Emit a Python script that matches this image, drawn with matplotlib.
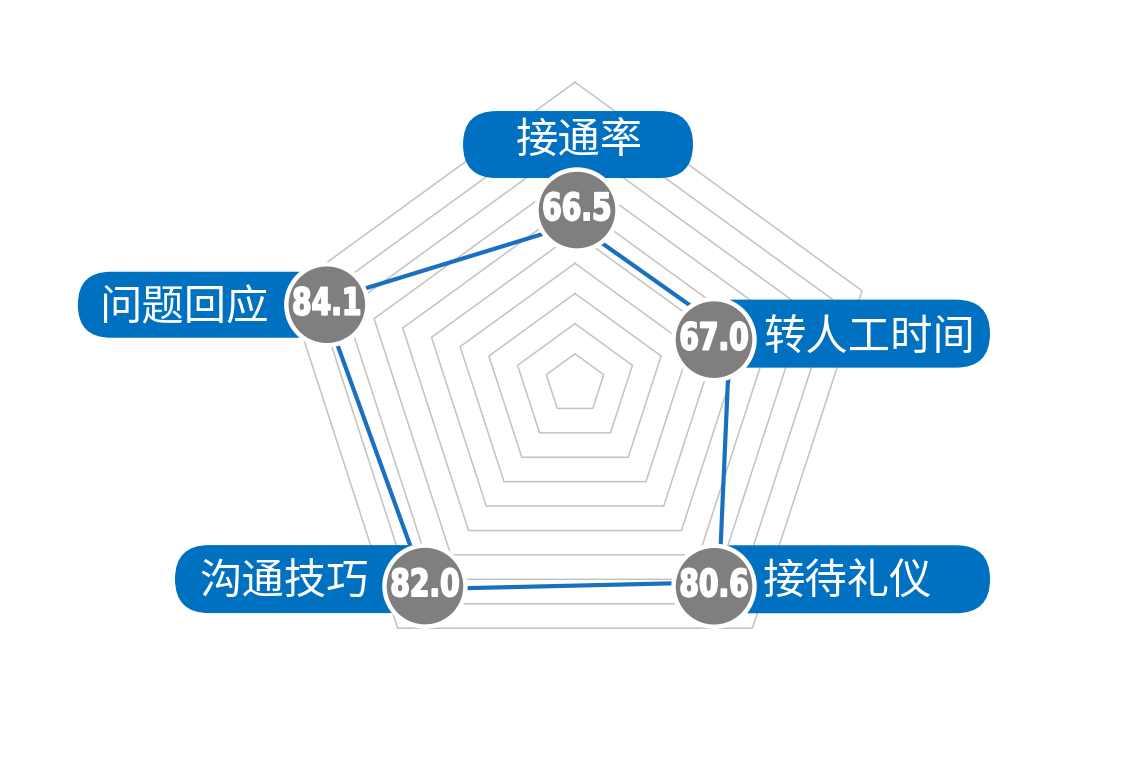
import numpy as np
import matplotlib
matplotlib.use('Agg')
import matplotlib.pyplot as plt
import matplotlib.transforms as mtransforms
import matplotlib.patheffects as patheffects
from matplotlib.path import Path
from matplotlib.patches import FancyBboxPatch, Circle

categories = ['接通率', '转人工时间', '接待礼仪', '沟通技巧', '问题回应']
scores = [66.5, 67.0, 80.6, 82.0, 84.1]
r_min, r_max = 40, 90
grid_levels = [45, 50, 55, 60, 65, 70, 75, 80, 85, 90]

BLUE = '#0070C0'
LINE = '#1A6FC0'
GREY = '#7F7F7F'
GRID = '#C3C3C3'


class CondensedText(patheffects.AbstractPathEffect):
    """Draw the text glyphs narrower and a little heavier (condensed look)."""

    def __init__(self, sx=0.76, stroke=1.2):
        super().__init__()
        self.sx = sx
        self.stroke = stroke

    def draw_path(self, renderer, gc, tpath, affine, rgbFace=None):
        verts = affine.transform(tpath.vertices)
        if tpath.codes is not None:
            keep = tpath.codes != Path.CLOSEPOLY
            verts = verts[keep]
        xc = 0.5 * (verts[:, 0].min() + verts[:, 0].max())
        aff = affine + mtransforms.Affine2D().translate(-xc, 0).scale(self.sx, 1).translate(xc, 0)
        gc0 = renderer.new_gc()
        gc0.copy_properties(gc)
        gc0.set_linewidth(self.stroke)
        gc0.set_foreground(rgbFace)
        renderer.draw_path(gc0, tpath, aff, rgbFace)
        gc0.restore()


W, H = 1124, 775
fig = plt.figure(figsize=(W / 100, H / 100), dpi=100)
fig.patch.set_facecolor('white')
cx, cy, R = 575.0, 384.0, 301.8
ax = fig.add_axes([(cx - R) / W, (H - cy - R) / H, 2 * R / W, 2 * R / H], projection='polar')
ax.set_theta_offset(np.pi / 2)
ax.set_theta_direction(-1)
ax.set_ylim(r_min, r_max)
ax.axis('off')

n = len(categories)
theta = np.arange(n) * 2 * np.pi / n
theta_c = np.append(theta, theta[0])

for lv in grid_levels:
    ax.plot(theta_c, [lv] * (n + 1), color=GRID, lw=1.1, zorder=1, clip_on=False)

vals_c = np.append(scores, scores[0])
ax.plot(theta_c, vals_c, color=LINE, lw=3, zorder=2, clip_on=False, solid_joinstyle='round')

# label layout, in pixels relative to each data point (x right, y up)
pill_boxes = [(-112, 46, 230, 67), (-30, -34, 290, 68), (-19, -31, 290, 68),
              (-251, -24, 265, 68), (-244, -36, 252, 66)]
text_pos = [((4, 83), 'center'), ((33, -5), 'left'), ((44, -1), 'left'),
            ((-57, 6), 'right'), ((-53, -7), 'right')]
circle_off = [(2, 14), (-16, -6), (-5, -4), (-1, 3), (5, -3)]

cjk = ['Noto Sans CJK SC', 'DejaVu Sans']

for i, (t, v) in enumerate(zip(theta, scores)):
    tr = mtransforms.ScaledTranslation(t, v, ax.transData)
    x0, y0, w, h = pill_boxes[i]
    pill = FancyBboxPatch((x0, y0), w, h, boxstyle=f'round,pad=0,rounding_size={h/2}',
                          transform=tr, fc=BLUE, ec='none', zorder=3, clip_on=False)
    ax.add_artist(pill)
    (tx, ty), ha = text_pos[i]
    ax.text(tx, ty, categories[i], transform=tr, ha=ha, va='center', color='white',
            fontsize=30.5, family=cjk, zorder=6, clip_on=False)
    ox, oy = circle_off[i]
    circ = Circle((ox, oy), 40.5, transform=tr, fc=GREY, ec='white', lw=3.2,
                  zorder=4, clip_on=False)
    ax.add_artist(circ)
    ax.text(ox, oy, f'{v:.1f}', transform=tr, ha='center', va='center', color='white',
            fontsize=27, fontweight='bold', family='DejaVu Sans', zorder=6, clip_on=False,
            path_effects=[CondensedText(0.75, 1.3)])

fig.savefig('out.png', dpi=100, facecolor='white')
